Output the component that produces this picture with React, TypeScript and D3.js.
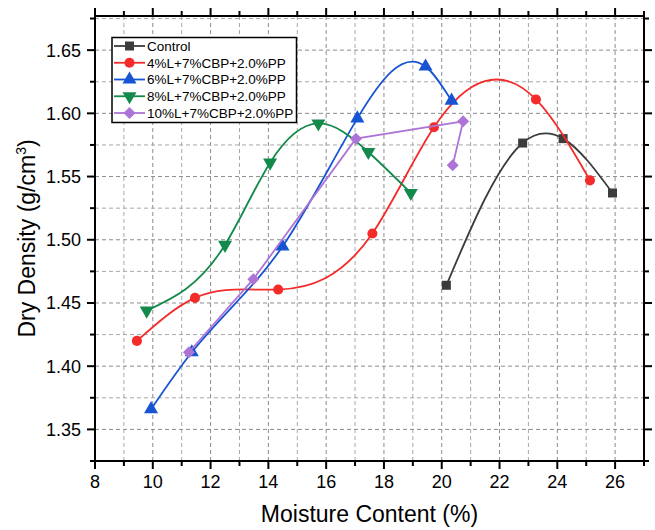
import React from "react";
import * as d3 from "d3";

const controlMoisture = [20.16, 22.8, 24.2, 25.91];
const controlDensity = [1.464, 1.5765, 1.58, 1.537];

const l4Moisture = [9.45, 11.46, 14.34, 17.6, 19.73, 23.26, 25.13];
const l4Density = [1.42, 1.454, 1.4606, 1.505, 1.589, 1.611, 1.547];

const l6Moisture = [9.94, 11.35, 14.49, 17.08, 19.44, 20.34];
const l6Density = [1.366, 1.411, 1.4947, 1.596, 1.637, 1.61];

const l8Moisture = [9.79, 12.5, 14.06, 15.73, 17.46, 18.93];
const l8Density = [1.444, 1.496, 1.561, 1.592, 1.5694, 1.537];

const l10Moisture = [11.25, 13.48, 17.03, 20.74, 20.38];
const l10Density = [1.411, 1.4688, 1.58, 1.5937, 1.559];

const seriesNames = [
  "Control",
  "4%L+7%CBP+2.0%PP",
  "6%L+7%CBP+2.0%PP",
  "8%L+7%CBP+2.0%PP",
  "10%L+7%CBP+2.0%PP",
];

const xMajorTicks = [8, 10, 12, 14, 16, 18, 20, 22, 24, 26];
const yMajorTicks = [1.35, 1.4, 1.45, 1.5, 1.55, 1.6, 1.65];

const FONT = "'Liberation Sans', Arial, sans-serif";

type Series = {
  name: string;
  xs: number[];
  ys: number[];
  color: string;
  marker: "square" | "circle" | "up" | "down" | "diamond";
  smooth: boolean;
};

const series: Series[] = [
  { name: seriesNames[0], xs: controlMoisture, ys: controlDensity, color: "#3c3c3c", marker: "square", smooth: true },
  { name: seriesNames[1], xs: l4Moisture, ys: l4Density, color: "#f42b2b", marker: "circle", smooth: true },
  { name: seriesNames[2], xs: l6Moisture, ys: l6Density, color: "#1654d4", marker: "up", smooth: true },
  { name: seriesNames[3], xs: l8Moisture, ys: l8Density, color: "#138a4c", marker: "down", smooth: true },
  { name: seriesNames[4], xs: l10Moisture, ys: l10Density, color: "#ad74d6", marker: "diamond", smooth: false },
];

// d3 curve factory: natural cubic spline of y as a function of x (like Origin's "Spline" connection)
class SplineX {
  _ctx: any;
  _x: number[] = [];
  _y: number[] = [];
  constructor(ctx: any) {
    this._ctx = ctx;
  }
  areaStart() {}
  areaEnd() {}
  lineStart() {
    this._x = [];
    this._y = [];
  }
  point(x: number, y: number) {
    this._x.push(+x);
    this._y.push(+y);
  }
  lineEnd() {
    const X = this._x;
    const Y = this._y;
    const n = X.length;
    const ctx = this._ctx;
    if (n === 0) return;
    ctx.moveTo(X[0], Y[0]);
    if (n < 3) {
      for (let i = 1; i < n; i++) ctx.lineTo(X[i], Y[i]);
      return;
    }
    const h: number[] = [];
    for (let i = 0; i < n - 1; i++) h.push(X[i + 1] - X[i]);
    // tridiagonal solve for second derivatives M (natural: M0 = Mn-1 = 0)
    const M = new Array(n).fill(0);
    const m = n - 2;
    const a = new Array(m).fill(0);
    const b = new Array(m).fill(0);
    const c = new Array(m).fill(0);
    const r = new Array(m).fill(0);
    for (let k = 0; k < m; k++) {
      const i = k + 1;
      a[k] = h[i - 1];
      b[k] = 2 * (h[i - 1] + h[i]);
      c[k] = h[i];
      r[k] = 6 * ((Y[i + 1] - Y[i]) / h[i] - (Y[i] - Y[i - 1]) / h[i - 1]);
    }
    for (let k = 1; k < m; k++) {
      const w = a[k] / b[k - 1];
      b[k] -= w * c[k - 1];
      r[k] -= w * r[k - 1];
    }
    const sol = new Array(m).fill(0);
    sol[m - 1] = r[m - 1] / b[m - 1];
    for (let k = m - 2; k >= 0; k--) sol[k] = (r[k] - c[k] * sol[k + 1]) / b[k];
    for (let k = 0; k < m; k++) M[k + 1] = sol[k];
    for (let i = 0; i < n - 1; i++) {
      const hi = h[i];
      const d = (Y[i + 1] - Y[i]) / hi;
      const s0 = d - (hi * (2 * M[i] + M[i + 1])) / 6;
      const s1 = d + (hi * (M[i] + 2 * M[i + 1])) / 6;
      ctx.bezierCurveTo(
        X[i] + hi / 3,
        Y[i] + (s0 * hi) / 3,
        X[i + 1] - hi / 3,
        Y[i + 1] - (s1 * hi) / 3,
        X[i + 1],
        Y[i + 1]
      );
    }
  }
}
const curveSplineX = (ctx: any) => new SplineX(ctx) as any;

function markerPath(mk: Series["marker"]): { d: string; rot: number } {
  switch (mk) {
    case "square":
      return { d: d3.symbol(d3.symbolSquare, 81)() as string, rot: 0 };
    case "circle":
      return { d: d3.symbol(d3.symbolCircle, 80)() as string, rot: 0 };
    case "up":
      return { d: d3.symbol(d3.symbolTriangle, 85)() as string, rot: 0 };
    case "down":
      return { d: d3.symbol(d3.symbolTriangle, 85)() as string, rot: 180 };
    case "diamond":
      return { d: d3.symbol(d3.symbolSquare, 72)() as string, rot: 45 };
  }
}

export default function App() {
  const W = 655;
  const H = 530;
  const left = 95;
  const right = 644;
  const top = 16;
  const bottom = 461;

  const x = d3.scaleLinear().domain([8, 27]).range([left, right]);
  const y = d3.scaleLinear().domain([1.325, 1.677]).range([bottom, top]);

  const xMinor = d3.range(9, 27.5, 2);
  const xGridAll = d3.range(9, 27, 1);
  const yGridAll = d3.range(1.35, 1.676, 0.025).map((v) => Math.round(v * 1000) / 1000);
  const yMinor = yGridAll.filter((v) => !yMajorTicks.some((t) => Math.abs(t - v) < 1e-6));
  yMinor.push(1.325);

  const isMajorX = (v: number) => xMajorTicks.includes(v);
  const isMajorY = (v: number) => yMajorTicks.some((t) => Math.abs(t - v) < 1e-6);

  const legendX = 112;
  const legendY = 37.5;
  const rowH = 16.75;

  return (
    <svg
      width={W}
      height={H}
      style={{ position: "fixed", left: 0, top: 0, background: "#fff" }}
      fontFamily={FONT}
    >
      <rect x={0} y={0} width={W} height={H} fill="#fff" />
      {/* grid */}
      <g>
        {xGridAll.map((v) => (
          <line
            key={"gx" + v}
            x1={x(v)}
            x2={x(v)}
            y1={top}
            y2={bottom}
            stroke={isMajorX(v) ? "#8c8c8c" : "#a8a8a8"}
            strokeWidth={1}
            strokeDasharray="4,3"
          />
        ))}
        {yGridAll.map((v) => (
          <line
            key={"gy" + v}
            x1={left}
            x2={right}
            y1={y(v)}
            y2={y(v)}
            stroke={isMajorY(v) ? "#8c8c8c" : "#a8a8a8"}
            strokeWidth={1}
            strokeDasharray="4,3"
          />
        ))}
      </g>

      {/* series */}
      {series.map((s) => {
        const pts = s.xs.map((xv, i) => [xv, s.ys[i]] as [number, number]);
        const line = d3
          .line<[number, number]>()
          .x((d) => x(d[0]))
          .y((d) => y(d[1]))
          .curve(s.smooth ? curveSplineX : d3.curveLinear);
        const mk = markerPath(s.marker);
        return (
          <g key={s.name}>
            <path d={line(pts) as string} fill="none" stroke={s.color} strokeWidth={1.8} />
            {pts.map((p, i) => (
              <path
                key={i}
                d={mk.d}
                fill={s.color}
                transform={`translate(${x(p[0])},${y(p[1])}) rotate(${mk.rot})`}
              />
            ))}
          </g>
        );
      })}

      {/* frame */}
      <rect x={left} y={top} width={right - left} height={bottom - top} fill="none" stroke="#000" strokeWidth={2} />

      {/* x ticks bottom and top */}
      {xMajorTicks.map((v) => (
        <g key={"xt" + v}>
          <line x1={x(v)} x2={x(v)} y1={bottom} y2={bottom + 8} stroke="#000" strokeWidth={2} />
          <line x1={x(v)} x2={x(v)} y1={top} y2={top - 8} stroke="#000" strokeWidth={2} />
          <text x={x(v)} y={488} textAnchor="middle" fontSize={18} fill="#000">
            {v}
          </text>
        </g>
      ))}
      {xMinor.map((v) => (
        <g key={"xm" + v}>
          <line x1={x(v)} x2={x(v)} y1={bottom} y2={bottom + 5} stroke="#000" strokeWidth={2} />
          <line x1={x(v)} x2={x(v)} y1={top} y2={top - 5} stroke="#000" strokeWidth={2} />
        </g>
      ))}

      {/* y ticks left and right */}
      {yMajorTicks.map((v) => (
        <g key={"yt" + v}>
          <line x1={left} x2={left - 8} y1={y(v)} y2={y(v)} stroke="#000" strokeWidth={2} />
          <line x1={right} x2={right + 8} y1={y(v)} y2={y(v)} stroke="#000" strokeWidth={2} />
          <text x={81} y={y(v)} dy="0.36em" textAnchor="end" fontSize={18} fill="#000">
            {d3.format(".2f")(v)}
          </text>
        </g>
      ))}
      {yMinor.map((v) => (
        <g key={"ym" + v}>
          <line x1={left} x2={left - 5} y1={y(v)} y2={y(v)} stroke="#000" strokeWidth={2} />
          <line x1={right} x2={right + 5} y1={y(v)} y2={y(v)} stroke="#000" strokeWidth={2} />
        </g>
      ))}

      {/* axis titles */}
      <text x={(left + right) / 2} y={522} textAnchor="middle" fontSize={23} fill="#000">
        Moisture Content (%)
      </text>
      <text
        transform={`translate(35,${(top + bottom) / 2}) rotate(-90)`}
        textAnchor="middle"
        fontSize={23}
        fill="#000"
      >
        Dry Density (g/cm
        <tspan fontSize={14} dy={-9}>
          3
        </tspan>
        <tspan dy={9}>)</tspan>
      </text>

      {/* legend */}
      <g>
        <rect
          x={legendX}
          y={legendY}
          width={184.5}
          height={85}
          fill="#fff"
          stroke="#000"
          strokeWidth={1.5}
        />
        {series.map((s, i) => {
          const cy = legendY + 8.5 + i * rowH;
          const mk = markerPath(s.marker);
          return (
            <g key={"lg" + s.name}>
              <line x1={114} x2={145} y1={cy} y2={cy} stroke={s.color} strokeWidth={1.8} />
              <path d={mk.d} fill={s.color} transform={`translate(129.5,${cy}) rotate(${mk.rot})`} />
              <text x={147} y={cy} dy="0.36em" fontSize={13.5} fill="#000">
                {s.name}
              </text>
            </g>
          );
        })}
      </g>
    </svg>
  );
}
